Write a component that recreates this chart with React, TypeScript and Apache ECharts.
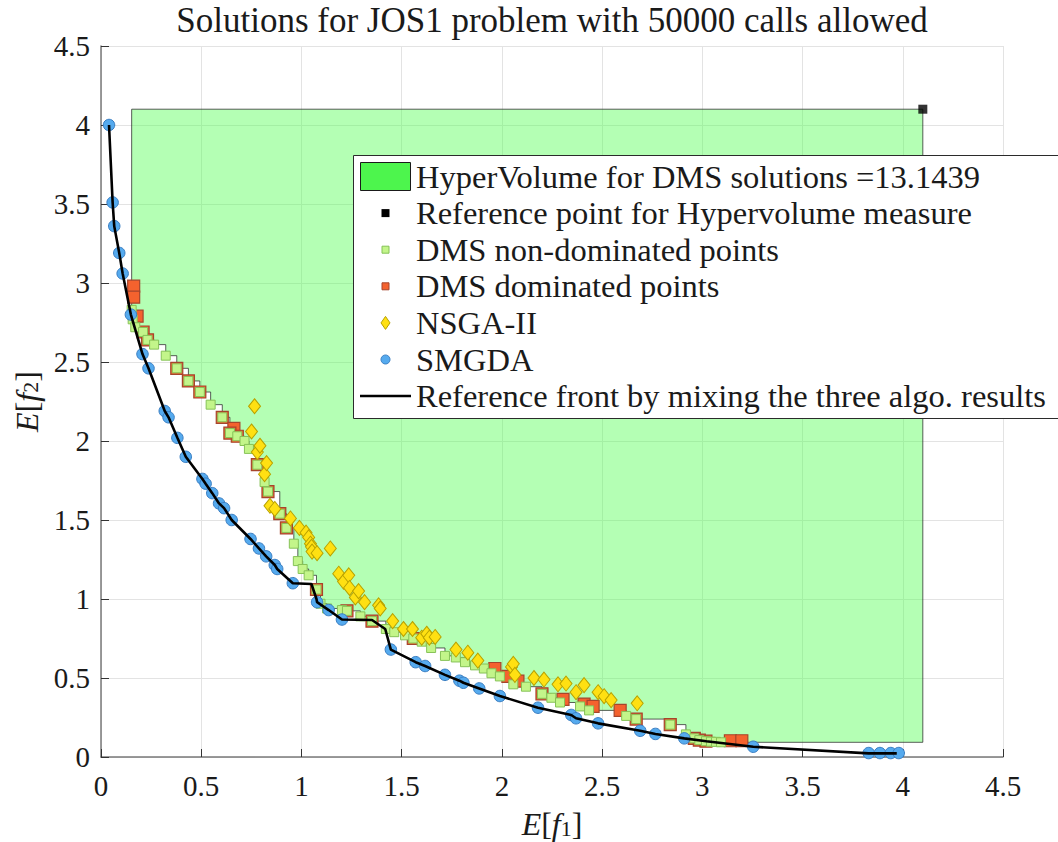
import React, { useEffect, useRef } from "react";
import * as echarts from "echarts";

// ---------- data ----------
const axisMin = 0;
const axisMax = 4.5;
const axisInterval = 0.5;

const titleText = "Solutions for JOS1 problem with 50000 calls allowed";
const hyperVolumeValue = 13.1439;
const legendLabels = [
  "HyperVolume for DMS solutions =" + hyperVolumeValue,
  "Reference point for Hypervolume measure",
  "DMS non-dominated points",
  "DMS dominated points",
  "NSGA-II",
  "SMGDA",
  "Reference front by mixing the three algo. results",
];

const referencePoint: [number, number][] = [[4.1, 4.1]];

const smgda: [number, number][] = [
  [0.04, 4.0], [0.058, 3.51], [0.066, 3.36], [0.091, 3.19], [0.108, 3.06],
  [0.149, 2.8], [0.207, 2.55], [0.237, 2.46], [0.318, 2.19], [0.337, 2.15],
  [0.381, 2.02], [0.423, 1.9], [0.506, 1.76], [0.522, 1.73], [0.555, 1.67],
  [0.589, 1.605], [0.614, 1.575], [0.652, 1.5], [0.746, 1.38], [0.788, 1.32],
  [0.824, 1.27], [0.867, 1.215], [0.879, 1.19], [0.957, 1.1], [1.078, 0.98],
  [1.136, 0.93], [1.202, 0.87], [1.446, 0.68], [1.57, 0.6], [1.617, 0.576],
  [1.716, 0.52], [1.788, 0.483], [1.808, 0.47], [1.887, 0.434], [1.99, 0.386],
  [2.18, 0.312], [2.346, 0.266], [2.37, 0.245], [2.48, 0.213], [2.69, 0.166],
  [2.766, 0.146], [2.91, 0.118], [3.254, 0.065], [3.83, 0.025], [3.886, 0.025],
  [3.94, 0.025], [3.98, 0.025],
];

const nsga2: [number, number][] = [
  [0.751, 2.06], [0.766, 2.22], [0.78, 1.93], [0.793, 1.97], [0.816, 1.79],
  [0.826, 1.86], [0.843, 1.59], [0.867, 1.57], [0.945, 1.51], [0.99, 1.45],
  [1.023, 1.42], [1.036, 1.39], [1.045, 1.35], [1.05, 1.33], [1.053, 1.3],
  [1.078, 1.29], [1.144, 1.32], [1.186, 1.16], [1.21, 1.11], [1.236, 1.15],
  [1.24, 1.07], [1.269, 1.01], [1.285, 1.05], [1.315, 0.98], [1.385, 0.96],
  [1.393, 0.94], [1.455, 0.86], [1.509, 0.81], [1.554, 0.81], [1.6, 0.755],
  [1.625, 0.78], [1.638, 0.755], [1.667, 0.76], [1.771, 0.68], [1.83, 0.66],
  [1.88, 0.61], [2.048, 0.57], [2.057, 0.59], [2.065, 0.52], [2.16, 0.5],
  [2.21, 0.49], [2.28, 0.46], [2.32, 0.465], [2.37, 0.41], [2.41, 0.455],
  [2.48, 0.41], [2.51, 0.385], [2.545, 0.36], [2.675, 0.34],
];

const dmsNonDominated: [number, number][] = [
  [0.153, 2.83], [0.158, 2.77], [0.171, 2.72], [0.21, 2.69], [0.232, 2.64],
  [0.265, 2.61], [0.323, 2.54], [0.378, 2.46], [0.436, 2.38], [0.493, 2.31],
  [0.547, 2.23], [0.605, 2.15], [0.643, 2.05], [0.68, 2.03], [0.716, 2.0],
  [0.738, 1.95], [0.78, 1.85], [0.816, 1.74], [0.833, 1.68], [0.892, 1.54],
  [0.925, 1.45], [0.962, 1.35], [0.982, 1.24], [1.006, 1.19], [1.036, 1.15],
  [1.075, 1.06], [1.095, 0.97], [1.128, 0.94], [1.202, 0.93], [1.227, 0.925],
  [1.294, 0.89], [1.352, 0.86], [1.421, 0.81], [1.463, 0.79], [1.517, 0.77],
  [1.558, 0.75], [1.6, 0.73], [1.647, 0.69], [1.716, 0.64], [1.77, 0.63],
  [1.816, 0.6], [1.866, 0.58], [1.91, 0.56], [1.948, 0.53], [1.99, 0.51],
  [2.057, 0.46], [2.12, 0.445], [2.2, 0.4], [2.247, 0.375], [2.29, 0.345],
  [2.39, 0.32], [2.435, 0.295], [2.62, 0.26], [2.67, 0.24], [2.84, 0.205],
  [2.918, 0.143], [2.96, 0.118], [2.985, 0.107], [3.018, 0.1], [3.043, 0.097],
  [3.068, 0.096], [3.093, 0.093],
];

const dmsDominated: [number, number][] = [
  [0.163, 2.98], [0.163, 2.91], [0.18, 2.79], [0.21, 2.69], [0.232, 2.64],
  [0.378, 2.46], [0.436, 2.38], [0.493, 2.31], [0.605, 2.15], [0.663, 2.08],
  [0.643, 2.05], [0.68, 2.03], [0.78, 1.85], [0.833, 1.68], [0.892, 1.54],
  [0.925, 1.45], [1.075, 1.06], [1.227, 0.925], [1.352, 0.86], [1.558, 0.75],
  [1.965, 0.56], [2.03, 0.51], [2.08, 0.48], [2.2, 0.4], [2.305, 0.365],
  [2.41, 0.335], [2.455, 0.32], [2.59, 0.295], [2.67, 0.24], [2.84, 0.205],
  [2.96, 0.118], [2.985, 0.107], [3.018, 0.1], [3.14, 0.103], [3.197, 0.103],
];

const referenceFront: [number, number][] = [
  [0.04, 4.0], [0.058, 3.51], [0.066, 3.36], [0.091, 3.19], [0.108, 3.06],
  [0.149, 2.8], [0.207, 2.55], [0.237, 2.46], [0.318, 2.19], [0.337, 2.15],
  [0.381, 2.02], [0.423, 1.9], [0.506, 1.76], [0.522, 1.73], [0.555, 1.67],
  [0.589, 1.605], [0.614, 1.575], [0.652, 1.5], [0.746, 1.38], [0.788, 1.32],
  [0.824, 1.27], [0.867, 1.215], [0.879, 1.19], [0.957, 1.1], [1.05, 1.095],
  [1.075, 1.0], [1.078, 0.98], [1.136, 0.93], [1.202, 0.87], [1.352, 0.867],
  [1.418, 0.81], [1.446, 0.68], [1.57, 0.6], [1.617, 0.576], [1.716, 0.52],
  [1.788, 0.483], [1.808, 0.47], [1.887, 0.434], [1.99, 0.386], [2.18, 0.312],
  [2.346, 0.266], [2.37, 0.245], [2.48, 0.213], [2.69, 0.166], [2.766, 0.146],
  [2.91, 0.118], [3.02, 0.1], [3.254, 0.065], [3.83, 0.023], [3.97, 0.023],
];

// ---------- styling ----------
const FONT = "'Liberation Serif', 'Times New Roman', serif";
const FS_TICK = 29;
const FS_TITLE = 35;
const FS_LEGEND = 32.5;
const FS_NAME = 32;
const TXT = "#1a1a1a";

const C_AREA = "rgba(76,255,76,0.42)";
const C_PATCH = "#4DF54D";
const C_GREEN = "#C3F58A";
const C_GREEN_EDGE = "#86C257";
const C_RED = "#F4622E";
const C_RED_EDGE = "#A6452C";
const C_YELLOW = "#FFE012";
const C_YELLOW_EDGE = "#B8A100";
const C_BLUE = "#55AAEE";
const C_BLUE_EDGE = "#3A7EC2";

function buildStaircase(points: [number, number][], ref: [number, number]): [number, number][] {
  const pts = [...points].sort((a, b) => a[0] - b[0]);
  const verts: [number, number][] = [];
  verts.push([pts[0][0], ref[1]]);
  for (let i = 0; i < pts.length; i++) {
    verts.push([pts[i][0], pts[i][1]]);
    const nextX = i < pts.length - 1 ? pts[i + 1][0] : ref[0];
    verts.push([nextX, pts[i][1]]);
  }
  verts.push([ref[0], ref[1]]);
  return verts;
}

export default function App() {
  const ref = useRef<HTMLDivElement>(null);

  useEffect(() => {
    if (!ref.current) return;
    const chart = echarts.init(ref.current, undefined, { renderer: "svg" });
    const stair = buildStaircase(dmsNonDominated, referencePoint[0]);

    const legendTop = 155;
    const rowY0 = 176.5;
    const rowGap = 36.6;
    const textX = 416;
    const iconCx = 385.5;
    const ZL = 100;

    const legendChildren: any[] = [
      {
        type: "rect",
        z: ZL,
        shape: { x: 353.5, y: legendTop + 0.5, width: 760, height: 263 },
        style: { fill: "#ffffff", stroke: "#2b2b2b", lineWidth: 1 },
      },
      {
        type: "rect",
        z: ZL + 1,
        shape: { x: 360.5, y: 162.5, width: 50, height: 28 },
        style: { fill: C_PATCH, stroke: "#1a1a1a", lineWidth: 1 },
      },
      {
        type: "rect",
        z: ZL + 1,
        shape: { x: iconCx - 4, y: rowY0 + rowGap - 4, width: 8, height: 8 },
        style: { fill: "#000000" },
      },
      {
        type: "rect",
        z: ZL + 1,
        shape: { x: iconCx - 3.5, y: rowY0 + 2 * rowGap - 3.5, width: 7, height: 7 },
        style: { fill: C_GREEN, stroke: C_GREEN_EDGE, lineWidth: 1 },
      },
      {
        type: "rect",
        z: ZL + 1,
        shape: { x: iconCx - 3.5, y: rowY0 + 3 * rowGap - 3.5, width: 7, height: 7 },
        style: { fill: C_RED, stroke: C_RED_EDGE, lineWidth: 1 },
      },
      {
        type: "polygon",
        z: ZL + 1,
        shape: {
          points: [
            [iconCx, rowY0 + 4 * rowGap - 6.5],
            [iconCx + 4.5, rowY0 + 4 * rowGap],
            [iconCx, rowY0 + 4 * rowGap + 6.5],
            [iconCx - 4.5, rowY0 + 4 * rowGap],
          ],
        },
        style: { fill: C_YELLOW, stroke: C_YELLOW_EDGE, lineWidth: 1 },
      },
      {
        type: "circle",
        z: ZL + 1,
        shape: { cx: iconCx, cy: rowY0 + 5 * rowGap, r: 4.5 },
        style: { fill: C_BLUE, stroke: C_BLUE_EDGE, lineWidth: 1 },
      },
      {
        type: "line",
        z: ZL + 1,
        shape: { x1: 360, y1: rowY0 + 6 * rowGap, x2: 411, y2: rowY0 + 6 * rowGap },
        style: { stroke: "#000000", lineWidth: 2.5 },
      },
    ];
    legendLabels.forEach((t, i) => {
      legendChildren.push({
        type: "text",
        z: ZL + 1,
        x: textX,
        y: rowY0 + i * rowGap,
        style: {
          text: t,
          fill: TXT,
          fontSize: FS_LEGEND,
          fontFamily: FONT,
          align: "left",
          verticalAlign: "middle",
        },
      });
    });

    const richName = {
      i: { fontStyle: "italic", fontSize: FS_NAME, fontFamily: FONT, color: TXT, lineHeight: 30 },
      n: { fontSize: FS_NAME, fontFamily: FONT, color: TXT, lineHeight: 30 },
      s: { fontSize: 22, fontFamily: FONT, color: TXT, lineHeight: 12, verticalAlign: "bottom" },
    };

    const axisCommon = {
      type: "value",
      min: axisMin,
      max: axisMax,
      interval: axisInterval,
      nameLocation: "middle",
      axisLine: { show: true, onZero: false, lineStyle: { color: "#7a7a7a", width: 1.5 } },
      axisTick: { show: true, inside: true, length: 8, lineStyle: { color: "#333333", width: 1 } },
      splitLine: { show: true, lineStyle: { color: "#e3e3e3", width: 1 } },
      axisLabel: { color: TXT, fontSize: FS_TICK, fontFamily: FONT },
    };

    chart.setOption({
      animation: false,
      backgroundColor: "#ffffff",
      grid: {
        left: 101,
        right: 55,
        top: 46,
        bottom: 85,
        containLabel: false,
        outerBoundsMode: "none",
      },
      xAxis: {
        ...axisCommon,
        name: "{i|E}{n|[}{i|f}{s|1}{n|]}",
        nameGap: 52,
        nameTextStyle: { rich: richName },
        axisLabel: { ...axisCommon.axisLabel, margin: 14 },
      },
      yAxis: {
        ...axisCommon,
        name: "{i|E}{n|[}{i|f}{s|2}{n|]}",
        nameGap: 58,
        nameTextStyle: { rich: richName },
        axisLabel: { ...axisCommon.axisLabel, margin: 11 },
      },
      graphic: [
        {
          type: "text",
          z: ZL,
          x: 552,
          y: 20,
          style: {
            text: titleText,
            fill: TXT,
            fontSize: FS_TITLE,
            fontFamily: FONT,
            align: "center",
            verticalAlign: "middle",
          },
        },
        { type: "group", children: legendChildren },
      ],
      series: [
        {
          name: legendLabels[0],
          type: "custom",
          coordinateSystem: "cartesian2d",
          z: 1,
          silent: true,
          data: [stair[0]],
          renderItem: (_params: any, api: any) => ({
            type: "polygon",
            shape: { points: stair.map((p) => api.coord(p)) },
            style: { fill: C_AREA, stroke: "rgba(40,40,40,0.75)", lineWidth: 1 },
          }),
        },
        {
          name: legendLabels[3],
          type: "scatter",
          z: 3,
          symbol: "rect",
          symbolSize: 12,
          itemStyle: { color: C_RED, borderColor: C_RED_EDGE, borderWidth: 1.2, opacity: 1 },
          data: dmsDominated,
        },
        {
          name: legendLabels[2],
          type: "scatter",
          z: 4,
          symbol: "rect",
          symbolSize: 9,
          itemStyle: { color: C_GREEN, borderColor: C_GREEN_EDGE, borderWidth: 1, opacity: 1 },
          data: dmsNonDominated,
        },
        {
          name: legendLabels[4],
          type: "scatter",
          z: 5,
          symbol: "diamond",
          symbolSize: [12, 15],
          itemStyle: { color: C_YELLOW, borderColor: C_YELLOW_EDGE, borderWidth: 1, opacity: 1 },
          data: nsga2,
        },
        {
          name: legendLabels[5],
          type: "scatter",
          z: 6,
          symbol: "circle",
          symbolSize: 11.5,
          itemStyle: { color: C_BLUE, borderColor: C_BLUE_EDGE, borderWidth: 1, opacity: 1 },
          data: smgda,
        },
        {
          name: legendLabels[6],
          type: "line",
          z: 7,
          symbol: "none",
          lineStyle: { color: "#000000", width: 2.6 },
          data: referenceFront,
        },
        {
          name: legendLabels[1],
          type: "scatter",
          z: 8,
          symbol: "rect",
          symbolSize: 9,
          itemStyle: { color: "#000000" },
          data: referencePoint,
        },
      ],
    });

    return () => chart.dispose();
  }, []);

  return (
    <div
      ref={ref}
      style={{ position: "fixed", left: 0, top: 0, width: 1058, height: 842, background: "#fff" }}
    />
  );
}
